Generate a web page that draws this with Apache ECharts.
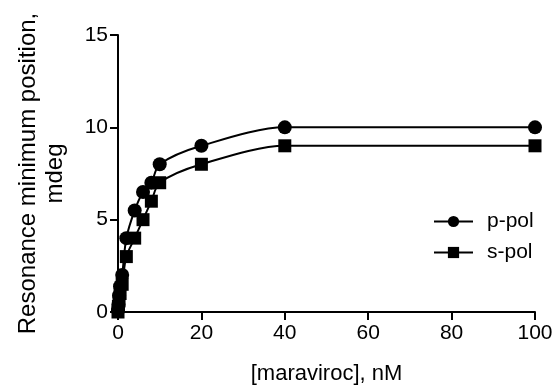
<!DOCTYPE html>
<html>
<head>
<meta charset="utf-8">
<script src="https://cdn.jsdelivr.net/npm/echarts@6/dist/echarts.min.js"></script>
<style>
  html, body { margin: 0; padding: 0; background: #fff; }
  #chart { width: 556px; height: 386px; }
</style>
</head>
<body>
<div id="chart"></div>
<script>
// concentrations, nM
const conc = [0, 0.1, 0.25, 0.5, 1, 2, 4, 6, 8, 10, 20, 40, 100];
// resonance minimum position, mdeg
const pPol = [0.1, 0.4, 0.9, 1.4, 2.0, 4.0, 5.5, 6.5, 7.0, 8.0, 9.0, 10.0, 10.0];
const sPol = [0.0, 0.3, 0.6, 1.0, 1.5, 3.0, 4.0, 5.0, 6.0, 7.0, 8.0, 9.0, 9.0];

const seriesNames = ["p-pol", "s-pol"];
const font = "Liberation Sans, Arial, sans-serif";

const chart = echarts.init(document.getElementById("chart"));

const axisCommon = {
  axisLine: { show: true, onZero: false, lineStyle: { color: "#000", width: 2 } },
  axisTick: { show: true, inside: false, length: 8, lineStyle: { color: "#000", width: 2 } },
  splitLine: { show: false },
  axisLabel: { color: "#000", fontSize: 21, fontFamily: font },
  nameTextStyle: { color: "#000", fontSize: 22, fontFamily: font }
};

const option = {
  animation: false,
  backgroundColor: "#fff",
  grid: { left: 118, right: 21, top: 35, bottom: 74, outerBoundsMode: "none", containLabel: false },
  legend: {
    data: seriesNames,
    orient: "vertical",
    left: 428,
    top: 206,
    itemWidth: 39,
    itemHeight: 14,
    itemGap: 10,
    textStyle: { color: "#000", fontSize: 21, fontFamily: font, padding: [0, 0, 0, 9] }
  },
  xAxis: Object.assign({}, axisCommon, {
    type: "value",
    min: 0,
    max: 100,
    interval: 20,
    name: "[maraviroc], nM",
    nameLocation: "middle",
    nameGap: 51,
    axisLabel: Object.assign({}, axisCommon.axisLabel, { margin: 11 })
  }),
  yAxis: Object.assign({}, axisCommon, {
    type: "value",
    min: 0,
    max: 15,
    interval: 5,
    name: "Resonance minimum position,\nmdeg",
    nameLocation: "middle",
    nameRotate: 90,
    nameGap: 49,
    nameTextStyle: Object.assign({}, axisCommon.nameTextStyle, { fontSize: 24, lineHeight: 27 }),
    axisLabel: Object.assign({}, axisCommon.axisLabel, { margin: 10 })
  }),
  series: [
    {
      name: seriesNames[0],
      type: "line",
      smooth: 0.3,
      symbol: "circle",
      symbolSize: 14,
      lineStyle: { color: "#000", width: 2 },
      itemStyle: { color: "#000" },
      data: conc.map((x, i) => [x, pPol[i]])
    },
    {
      name: seriesNames[1],
      type: "line",
      smooth: 0.3,
      symbol: "rect",
      symbolSize: 13,
      lineStyle: { color: "#000", width: 2 },
      itemStyle: { color: "#000" },
      data: conc.map((x, i) => [x, sPol[i]])
    }
  ]
};

chart.setOption(option);
</script>
</body>
</html>
